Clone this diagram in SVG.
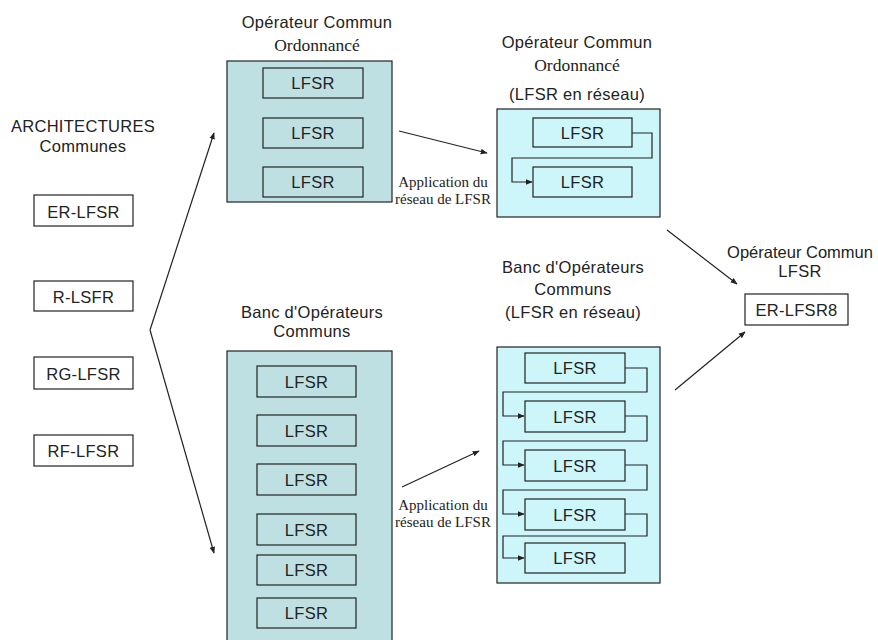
<svg xmlns="http://www.w3.org/2000/svg" width="878" height="640" viewBox="0 0 878 640">
<style>
  .sans{font-family:"Liberation Sans",Arial,sans-serif;font-size:16.5px;letter-spacing:0.3px;fill:#222;text-anchor:middle}
  .serif{font-family:"Liberation Serif","Times New Roman",serif;fill:#222;text-anchor:middle}
  .ord{font-size:17.5px}
  .app{font-size:15px}
  .box{fill:#fff;stroke:#222;stroke-width:1.2}
  .grp1{fill:#bfe0e3;stroke:#222;stroke-width:1.2}
  .grp2{fill:#ccf6fa;stroke:#222;stroke-width:1.2}
  .in1{fill:#bfe0e3;stroke:#222;stroke-width:1.2}
  .in2{fill:#ccf6fa;stroke:#222;stroke-width:1.2}
  .edge{fill:none;stroke:#222;stroke-width:1.2}
</style>
<defs>
  <marker id="ah" viewBox="0 0 10 10" refX="9" refY="5" markerWidth="7" markerHeight="7" orient="auto" markerUnits="userSpaceOnUse">
    <path d="M0,1 L10,5 L0,9 z" fill="#222"/>
  </marker>
</defs>
<rect width="878" height="640" fill="#fff"/>

<g id="title-arch">
  <text class="sans" x="83" y="132">ARCHITECTURES</text>
  <text class="sans" x="83" y="152">Communes</text>
</g>
<g id="er-lfsr"><rect class="box" x="34" y="195" width="99" height="31"/><text class="sans" x="83.5" y="218">ER-LFSR</text></g>
<g id="r-lsfr"><rect class="box" x="34" y="281" width="99" height="30"/><text class="sans" x="83.5" y="303">R-LSFR</text></g>
<g id="rg-lfsr"><rect class="box" x="34" y="357" width="99" height="32"/><text class="sans" x="83.5" y="380">RG-LFSR</text></g>
<g id="rf-lfsr"><rect class="box" x="34" y="435" width="99" height="31"/><text class="sans" x="83.5" y="457">RF-LFSR</text></g>

<g id="op-ordonnance">
  <text class="sans" x="317" y="28">Opérateur Commun</text>
  <text class="serif ord" x="317" y="51">Ordonnancé</text>
  <rect class="grp1" x="227" y="61" width="165" height="141"/>
  <rect class="in1" x="263" y="68" width="100" height="30"/><text class="sans" x="313" y="89">LFSR</text>
  <rect class="in1" x="263" y="118" width="100" height="30"/><text class="sans" x="313" y="139">LFSR</text>
  <rect class="in1" x="263" y="167" width="100" height="30"/><text class="sans" x="313" y="188">LFSR</text>
</g>

<g id="op-ordonnance-reseau">
  <text class="sans" x="577" y="48">Opérateur Commun</text>
  <text class="serif ord" x="577" y="71">Ordonnancé</text>
  <text class="sans" x="577" y="100">(LFSR en réseau)</text>
  <rect class="grp2" x="497" y="109" width="163" height="108"/>
  <rect class="in2" x="533" y="118" width="99" height="29"/><text class="sans" x="582.5" y="139">LFSR</text>
  <rect class="in2" x="533" y="167" width="99" height="30"/><text class="sans" x="582.5" y="188">LFSR</text>
  <path class="edge" d="M632,133 H652 V158 H512 V182 H532" marker-end="url(#ah)"/>
</g>

<g id="banc">
  <text class="sans" x="312" y="318">Banc d'Opérateurs</text>
  <text class="sans" x="312" y="337">Communs</text>
  <rect class="grp1" x="227" y="351" width="165" height="300"/>
  <rect class="in1" x="257" y="366" width="99" height="31"/><text class="sans" x="306.5" y="388">LFSR</text>
  <rect class="in1" x="257" y="415" width="99" height="31"/><text class="sans" x="306.5" y="437">LFSR</text>
  <rect class="in1" x="257" y="464" width="99" height="31"/><text class="sans" x="306.5" y="486">LFSR</text>
  <rect class="in1" x="257" y="514" width="99" height="31"/><text class="sans" x="306.5" y="536">LFSR</text>
  <rect class="in1" x="257" y="555" width="99" height="30"/><text class="sans" x="306.5" y="576">LFSR</text>
  <rect class="in1" x="257" y="598" width="99" height="30"/><text class="sans" x="306.5" y="619">LFSR</text>
</g>

<g id="banc-reseau">
  <text class="sans" x="573" y="273">Banc d'Opérateurs</text>
  <text class="sans" x="573" y="295">Communs</text>
  <text class="sans" x="573" y="318">(LFSR en réseau)</text>
  <rect class="grp2" x="497" y="347" width="163" height="236"/>
  <rect class="in2" x="525" y="353" width="100" height="30"/><text class="sans" x="575" y="374">LFSR</text>
  <rect class="in2" x="525" y="401" width="100" height="31"/><text class="sans" x="575" y="423">LFSR</text>
  <rect class="in2" x="525" y="450" width="100" height="31"/><text class="sans" x="575" y="472">LFSR</text>
  <rect class="in2" x="525" y="499" width="100" height="31"/><text class="sans" x="575" y="521">LFSR</text>
  <rect class="in2" x="525" y="543" width="100" height="30"/><text class="sans" x="575" y="564">LFSR</text>
  <path class="edge" d="M625,368 H647 V392 H503 V416 H524" marker-end="url(#ah)"/>
  <path class="edge" d="M625,416 H647 V441 H503 V465 H524" marker-end="url(#ah)"/>
  <path class="edge" d="M625,465 H647 V490 H503 V514 H524" marker-end="url(#ah)"/>
  <path class="edge" d="M625,514 H647 V536 H503 V558 H524" marker-end="url(#ah)"/>
</g>

<g id="er-lfsr8">
  <text class="sans" x="800" y="258" style="letter-spacing:0">Opérateur Commun</text>
  <text class="sans" x="800" y="277">LFSR</text>
  <rect class="box" x="745" y="294" width="103" height="31"/>
  <text class="sans" x="796.5" y="316">ER-LFSR8</text>
</g>

<g id="connectors">
  <path class="edge" d="M150,330 L214,133" marker-end="url(#ah)"/>
  <path class="edge" d="M150,330 L214,553" marker-end="url(#ah)"/>
  <path class="edge" d="M399,131 L487,153" marker-end="url(#ah)"/>
  <path class="edge" d="M402,487 L479,451" marker-end="url(#ah)"/>
  <path class="edge" d="M667,230 L737,284" marker-end="url(#ah)"/>
  <path class="edge" d="M675,390 L745,332" marker-end="url(#ah)"/>
  <text class="serif app" x="443" y="187">Application du</text>
  <text class="serif app" x="443" y="204">réseau de LFSR</text>
  <text class="serif app" x="443" y="510">Application du</text>
  <text class="serif app" x="443" y="527">réseau de LFSR</text>
</g>
</svg>
